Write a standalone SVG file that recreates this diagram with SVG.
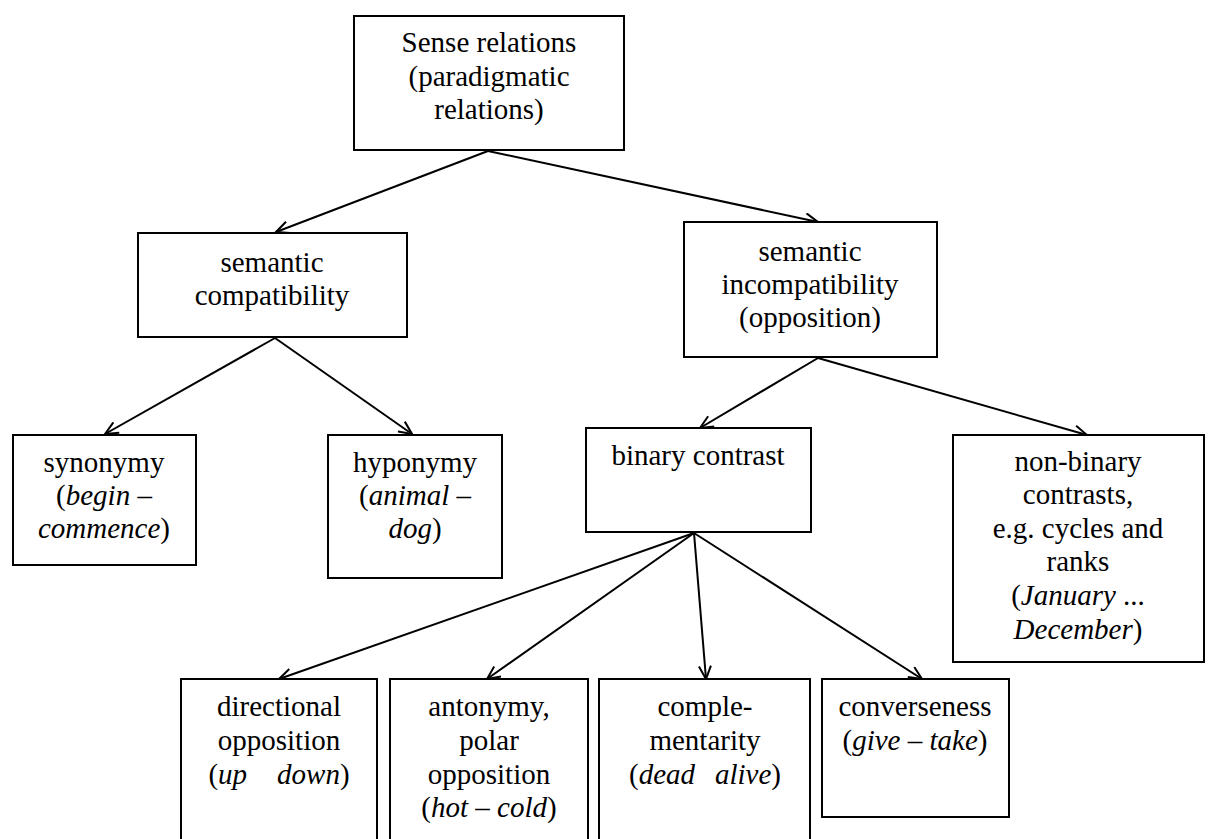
<svg xmlns="http://www.w3.org/2000/svg" width="1208" height="839" viewBox="0 0 1208 839">
<style>
.box{fill:#fff;stroke:#000;stroke-width:2}
.t{font-family:'Liberation Serif','DejaVu Serif',serif;font-size:29px;fill:#000;text-anchor:middle}
.i{font-style:italic}
.c{stroke:#000;stroke-width:2;fill:none;marker-end:url(#arr)}
</style>
<defs>
<marker id="arr" markerWidth="16" markerHeight="14" refX="14" refY="7" orient="auto" markerUnits="userSpaceOnUse">
<path d="M1,1 L14,7 L1,13" fill="none" stroke="#000" stroke-width="2"/>
</marker>
</defs>
<rect width="1208" height="839" fill="#fff"/>
<g id="connectors">
<line class="c" x1="488" y1="151" x2="276" y2="232"/>
<line class="c" x1="488" y1="151" x2="818" y2="222"/>
<line class="c" x1="275" y1="338" x2="105" y2="434"/>
<line class="c" x1="275" y1="338" x2="412" y2="434"/>
<line class="c" x1="818" y1="358" x2="700" y2="428"/>
<line class="c" x1="818" y1="358" x2="1087" y2="435"/>
<line class="c" x1="694" y1="533" x2="279" y2="679"/>
<line class="c" x1="694" y1="533" x2="487" y2="679"/>
<line class="c" x1="694" y1="533" x2="706" y2="679"/>
<line class="c" x1="694" y1="533" x2="922" y2="679"/>
</g>
<g id="sense">
<rect class="box" x="354" y="16" width="270" height="134"/>
<text class="t" x="489" y="52" font-family="Liberation Serif, serif">Sense relations</text>
<text class="t" x="489" y="86">(paradigmatic</text>
<text class="t" x="489" y="119">relations)</text>
</g>
<g id="compat">
<rect class="box" x="138" y="233" width="269" height="104"/>
<text class="t" x="272" y="272">semantic</text>
<text class="t" x="272" y="305">compatibility</text>
</g>
<g id="incompat">
<rect class="box" x="684" y="222" width="253" height="135"/>
<text class="t" x="810" y="261">semantic</text>
<text class="t" x="810" y="294">incompatibility</text>
<text class="t" x="810" y="327">(opposition)</text>
</g>
<g id="synonymy">
<rect class="box" x="13" y="435" width="183" height="130"/>
<text class="t" x="104" y="472">synonymy</text>
<text class="t" x="104" y="505">(<tspan class="i">begin</tspan> –</text>
<text class="t" x="104" y="538"><tspan class="i">commence</tspan>)</text>
</g>
<g id="hyponymy">
<rect class="box" x="328" y="435" width="174" height="143"/>
<text class="t" x="415" y="472">hyponymy</text>
<text class="t" x="415" y="505">(<tspan class="i">animal</tspan> –</text>
<text class="t" x="415" y="538"><tspan class="i">dog</tspan>)</text>
</g>
<g id="binary">
<rect class="box" x="586" y="428" width="225" height="104"/>
<text class="t" x="698" y="465">binary contrast</text>
</g>
<g id="nonbinary">
<rect class="box" x="953" y="435" width="251" height="227"/>
<text class="t" x="1078" y="471">non-binary</text>
<text class="t" x="1078" y="504">contrasts,</text>
<text class="t" x="1078" y="538">e.g. cycles and</text>
<text class="t" x="1078" y="571">ranks</text>
<text class="t" x="1078" y="605">(<tspan class="i">January</tspan> ...</text>
<text class="t" x="1078" y="639"><tspan class="i">December</tspan>)</text>
</g>
<g id="directional">
<rect class="box" x="181" y="679" width="196" height="180"/>
<text class="t" x="279" y="716">directional</text>
<text class="t" x="279" y="750">opposition</text>
<text class="t" x="279" y="784">(<tspan class="i">up</tspan><tspan class="i" dx="30">down</tspan>)</text>
</g>
<g id="antonymy">
<rect class="box" x="390" y="679" width="198" height="180"/>
<text class="t" x="489" y="716">antonymy,</text>
<text class="t" x="489" y="750">polar</text>
<text class="t" x="489" y="784">opposition</text>
<text class="t" x="489" y="817">(<tspan class="i">hot</tspan> – <tspan class="i">cold</tspan>)</text>
</g>
<g id="complementarity">
<rect class="box" x="599" y="679" width="211" height="180"/>
<text class="t" x="705" y="716">comple-</text>
<text class="t" x="705" y="750">mentarity</text>
<text class="t" x="705" y="784">(<tspan class="i">dead</tspan><tspan class="i" dx="20">alive</tspan>)</text>
</g>
<g id="converseness">
<rect class="box" x="822" y="679" width="187" height="138"/>
<text class="t" x="915" y="716">converseness</text>
<text class="t" x="915" y="750">(<tspan class="i">give</tspan> – <tspan class="i">take</tspan>)</text>
</g>
</svg>
